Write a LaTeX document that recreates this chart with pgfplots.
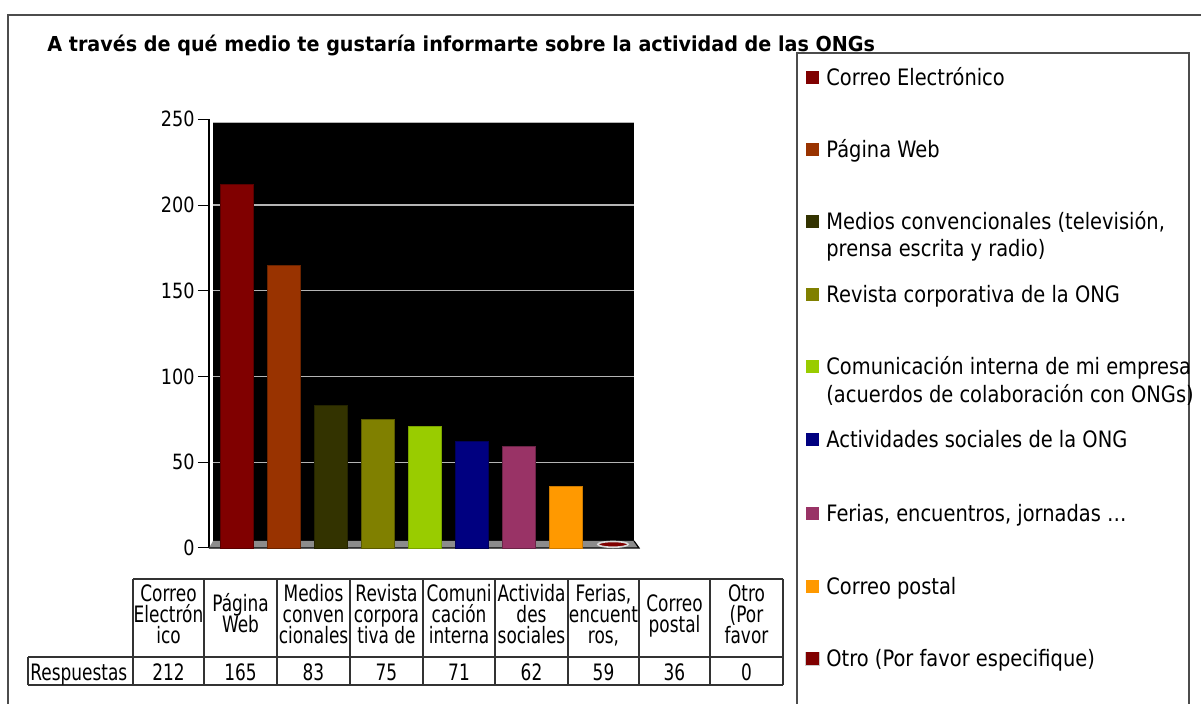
\documentclass[border=0pt]{standalone}
\usepackage{fontspec}
\setmainfont{DejaVu Sans}
\newfontfamily\legfont[FakeStretch=0.86]{DejaVu Sans}
\newfontfamily\tabfont[FakeStretch=0.75]{DejaVu Sans}
\newfontfamily\tickfont[FakeStretch=0.84]{DejaVu Sans}
\newfontfamily\titlefont[FakeStretch=0.93]{DejaVu Sans Bold}
\usepackage{pgfplots}
\pgfplotsset{compat=1.18}
\definecolor{c1}{HTML}{800000}
\definecolor{c2}{HTML}{993300}
\definecolor{c3}{HTML}{333300}
\definecolor{c4}{HTML}{808000}
\definecolor{c5}{HTML}{99CC00}
\definecolor{c6}{HTML}{000080}
\definecolor{c7}{HTML}{993366}
\definecolor{c8}{HTML}{FF9900}
\definecolor{c9}{HTML}{800000}
\definecolor{floorgray}{HTML}{8C8C8C}
\definecolor{gridgray}{HTML}{B4B4B4}
\begin{document}
\begin{tikzpicture}
\begin{axis}[
  at={(104.5pt,78pt)}, anchor=south west,
  scale only axis, width=215pt, height=214.35pt,
  xmin=-0.596, xmax=8.553, ymin=0, ymax=250,
  clip=false,
  axis x line=none, axis y line*=left,
  axis line style={black, line width=0.6pt},
  ytick={0,50,100,150,200,250},
  tick align=outside, major tick length=5.5pt,
  tick style={black, line width=0.5pt},
  /pgf/number format/assume math mode=true,
  yticklabel style={font=\tickfont\fontsize{10.5}{12}\selectfont, inner sep=1.5pt},
]
% back wall
\fill[black] (axis cs:-0.511,4.08) rectangle (axis cs:8.447,248.0);
\draw[gridgray, line width=0.6pt] (axis cs:-0.511,248.0) -- (axis cs:8.447,248.0);
\foreach \v in {50,100,150,200}{
  \edef\tmp{\noexpand\draw[gridgray, line width=0.6pt] (axis cs:-0.511,\v) -- (axis cs:8.447,\v);}\tmp
}
% floor
\fill[floorgray] (axis cs:-0.596,0) -- (axis cs:8.553,0) -- (axis cs:8.447,4.08) -- (axis cs:-0.511,4.08) -- cycle;
\draw[black, line width=0.6pt] (axis cs:-0.596,0) -- (axis cs:8.553,0) -- (axis cs:8.447,4.08);
% bars
\addplot[ybar, bar width=16.5pt, bar shift=0pt, fill=c1, draw=c1!70!black] coordinates {(0,212)};
\addplot[ybar, bar width=16.5pt, bar shift=0pt, fill=c2, draw=c2!70!black] coordinates {(1,165)};
\addplot[ybar, bar width=16.5pt, bar shift=0pt, fill=c3, draw=c3!70!black] coordinates {(2,83)};
\addplot[ybar, bar width=16.5pt, bar shift=0pt, fill=c4, draw=c4!70!black] coordinates {(3,75)};
\addplot[ybar, bar width=16.5pt, bar shift=0pt, fill=c5, draw=c5!80!black] coordinates {(4,71)};
\addplot[ybar, bar width=16.5pt, bar shift=0pt, fill=c6, draw=c6!70!black] coordinates {(5,62)};
\addplot[ybar, bar width=16.5pt, bar shift=0pt, fill=c7, draw=c7!70!black] coordinates {(6,59)};
\addplot[ybar, bar width=16.5pt, bar shift=0pt, fill=c8, draw=c8!80!black] coordinates {(7,36)};
\addplot[only marks, mark=*, mark size=2.6pt, mark options={xscale=2.9, yscale=0.55, yshift=3.3pt, fill=c9, draw=gray!30, line width=0.8pt}] coordinates {(8,0)};
\end{axis}

\begin{scope}[x=0.5pt, y=-0.5pt, shift={(0pt,352pt)}]
% outer frame
\draw[line width=1pt, black!70] (8,704) -- (8,15) -- (1201,15);
% title
\node[anchor=base west, inner sep=0pt] at (47,52) {\titlefont\fontsize{10.3}{12}\selectfont A través de qué medio te gustaría informarte sobre la actividad de las ONGs};
% legend box
\draw[black!70, line width=0.6pt] (797,704) -- (797,53) -- (1189,53) -- (1189,704);
% legend entries
\def\legitem#1#2#3{%
  \fill[#1] (806,#2-14.8) rectangle (819,#2-1.5);
  \node[anchor=base west, inner sep=0pt] at (826,#2) {\legfont\fontsize{11.3}{13}\selectfont #3};
}
\legitem{c1}{85.5}{Correo Electrónico}
\legitem{c2}{158}{Página Web}
\legitem{c3}{230}{Medios convencionales (televisión,}
\node[anchor=base west, inner sep=0pt] at (826,257) {\legfont\fontsize{11.3}{13}\selectfont prensa escrita y radio)};
\legitem{c4}{303}{Revista corporativa de la ONG}
\legitem{c5}{375}{Comunicación interna de mi empresa}
\node[anchor=base west, inner sep=0pt] at (826,403) {\legfont\fontsize{11.3}{13}\selectfont (acuerdos de colaboración con ONGs)};
\legitem{c6}{448}{Actividades sociales de la ONG}
\legitem{c7}{522}{Ferias, encuentros, jornadas …}
\legitem{c8}{595}{Correo postal}
\fill[gray!40] (805,652.2) rectangle (820,666.5);
\legitem{c9}{667}{Otro (Por favor especifique)}
% data table
\draw[black!80, line width=0.6pt] (133,579) -- (783,579);
\draw[black!80, line width=0.6pt] (28,657) -- (783,657);
\draw[black!80, line width=0.6pt] (28,685) -- (783,685);
\draw[black!80, line width=0.6pt] (28,657) -- (28,685);
\foreach \xx in {133,204,277,350,423,495,568,639,710,783}{
  \draw[black!80, line width=0.6pt] (\xx,579) -- (\xx,685);
}
\def\tf{\tabfont\fontsize{11.3}{13}\selectfont}
\def\three#1#2#3#4{%
  \node[anchor=base, inner sep=0pt] at (#1,602) {\tf #2};
  \node[anchor=base, inner sep=0pt] at (#1,623) {\tf #3};
  \node[anchor=base, inner sep=0pt] at (#1,644) {\tf #4};
}
\def\two#1#2#3{%
  \node[anchor=base, inner sep=0pt] at (#1,612) {\tf #2};
  \node[anchor=base, inner sep=0pt] at (#1,633) {\tf #3};
}
\three{168.5}{Correo}{Electrón}{ico}
\two{240.5}{Página}{Web}
\three{313.5}{Medios}{conven}{cionales}
\three{386.5}{Revista}{corpora}{tiva de}
\three{459}{Comuni}{cación}{interna}
\three{531.5}{Activida}{des}{sociales}
\three{603.5}{Ferias,}{encuent}{ros,}
\two{674.5}{Correo}{postal}
\three{746.5}{Otro}{(Por}{favor}
\node[anchor=base west, inner sep=0pt] at (30,681) {\tf Respuestas};
\foreach \xx/\vv in {168.5/212,240.5/165,313.5/83,386.5/75,459/71,531.5/62,603.5/59,674.5/36,746.5/0}{
  \node[anchor=base, inner sep=0pt] at (\xx,681) {\tf \vv};
}
\end{scope}
\pgfresetboundingbox
\path[use as bounding box] (0pt,0pt) rectangle (600.5pt,352pt);
\end{tikzpicture}
\end{document}
